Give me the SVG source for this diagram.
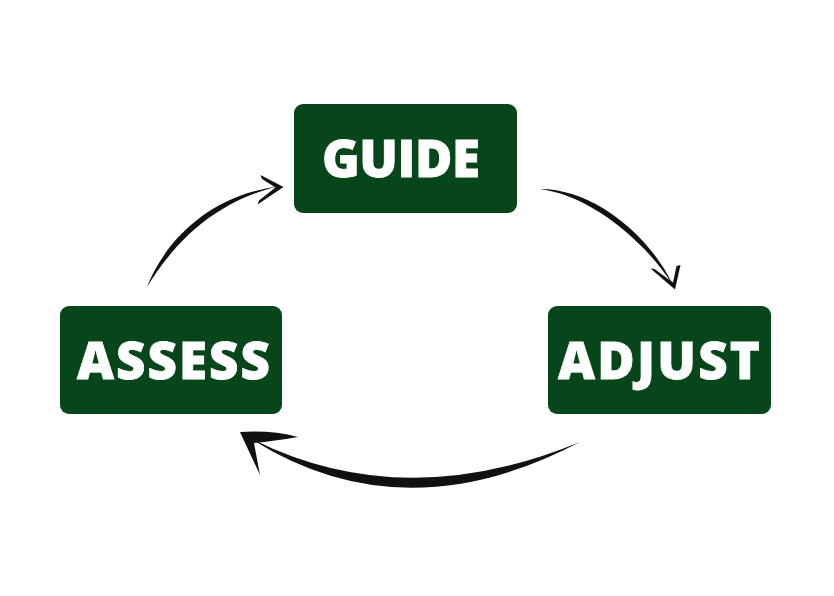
<svg xmlns="http://www.w3.org/2000/svg" width="834" height="596" viewBox="0 0 834 596">
<style>
.box{fill:#06461a}
.lbl{fill:#ffffff;stroke:#ffffff;stroke-width:0.8;font-family:"Open Sans","Noto Sans","Liberation Sans",sans-serif;font-weight:800;font-size:51px;text-anchor:middle}
.ink{fill:#111111}
</style>
<rect width="834" height="596" fill="#ffffff"/>
<g id="guide">
<rect class="box" x="294" y="104" width="223" height="109" rx="9"/>
<text class="lbl" x="401" y="177" textLength="158" lengthAdjust="spacing">GUIDE</text>
</g>
<g id="assess">
<rect class="box" x="60" y="306" width="222" height="108" rx="9"/>
<text class="lbl" x="173.5" y="379" textLength="193" lengthAdjust="spacing">ASSESS</text>
</g>
<g id="adjust">
<rect class="box" x="548" y="306" width="223" height="108" rx="9"/>
<text class="lbl" x="659" y="379" textLength="202" lengthAdjust="spacing">ADJUST</text>
</g>
<g id="connectors">
<path class="ink" d="M147,287 C162,248 203,196.5 278,186.5 C207,203.5 168,252.5 147,287 Z"/>
<polygon class="ink" points="260.5,175 283.5,187 257.5,204.5 259,200.5 275.5,187.5 262,179"/>
<path class="ink" d="M540,189 C591,188.5 648,232.5 673,285 C642,237.5 589,195.5 540,189 Z"/>
<polygon class="ink" points="650.5,268.5 675,289.5 680.5,265 676.5,266 673,282.5 654.5,269"/>
<path class="ink" d="M580,442 Q401,536 248,437 Q401,516 580,442 Z"/>
<path class="ink" d="M240,432 Q272,430 298,437 Q274,441 254,443 L260,475 Z"/>
</g>
</svg>
